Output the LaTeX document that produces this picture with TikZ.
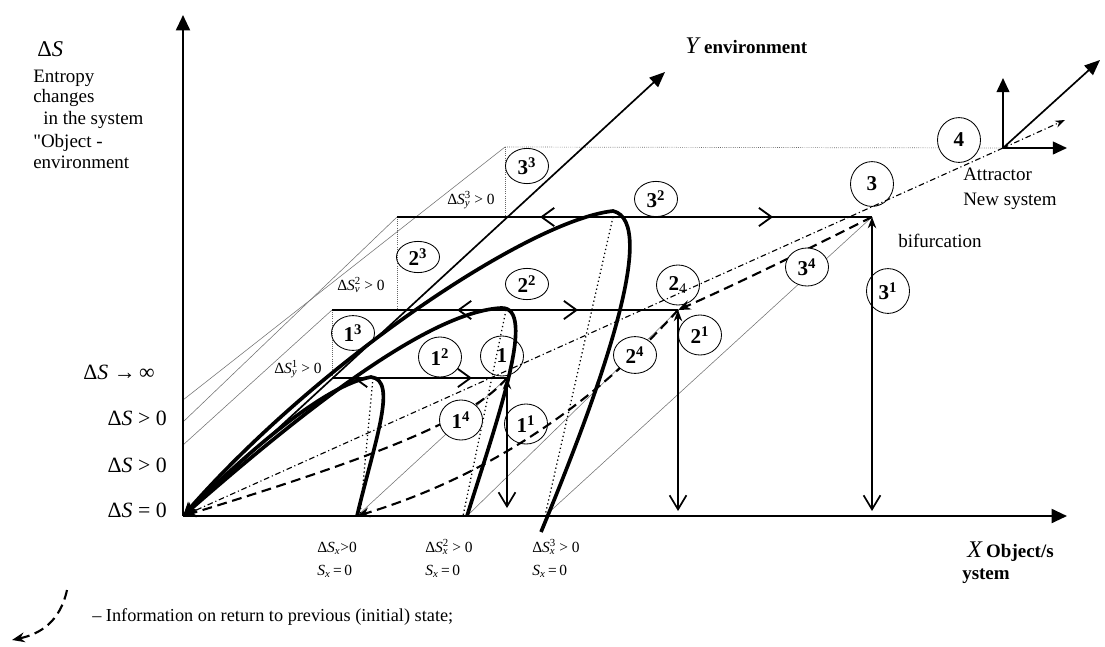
\documentclass[tikz,border=0pt]{standalone}
\usepackage{fontspec}
\setmainfont{Liberation Serif}
\usetikzlibrary{arrows.meta,shapes.geometric,decorations.markings}
\newcommand{\DSym}{\textup{Δ}\textit{S}}
\newcommand{\DSsub}[2]{\DSym\rlap{\textsuperscript{#2}}\textsubscript{\textit{#1}}}
\newcommand{\Sxz}{\textit{S}\textsubscript{\textit{x}}\,=\,0}
\begin{document}
\begin{tikzpicture}[x=0.025cm,y=-0.025cm,
 axisl/.style={line width=1.5pt,-{Triangle[length=11pt,width=10pt]}},
 yaxisl/.style={line width=1.2pt,-{Triangle[length=11pt,width=9pt]}},
 smallax/.style={line width=1.4pt,-{Triangle[length=10pt,width=9pt]}},
 thinl/.style={line width=0.4pt,black!55},
 dotl/.style={line width=0.9pt,dotted},
 boxdot/.style={line width=0.5pt,black!60,densely dotted},
 hline/.style={line width=1.3pt},
 traj/.style={line width=2.6pt,-{Stealth[length=10pt,width=8pt]}},
 ret/.style={line width=1.5pt,dash pattern=on 7pt off 4pt,-{Stealth[length=9pt,width=7pt]}},
 ddl/.style={line width=0.8pt,dash pattern=on 4pt off 2pt on 0.8pt off 2pt},
 varr/.style={line width=1.2pt,{Stealth[length=8pt,width=6pt]}-{Straight Barb[length=10pt,width=12pt]}},
 barbL/.style={postaction={decorate,decoration={markings,mark=at position #1 with {\arrowreversed{Straight Barb[length=9pt,width=13pt]}}}}},
 barbR/.style={postaction={decorate,decoration={markings,mark=at position #1 with {\arrow{Straight Barb[length=9pt,width=13pt]}}}}},
 st/.style={ellipse,draw,line width=0.6pt,minimum width=1.075cm,minimum height=#1,inner sep=0pt,font=\fontsize{15}{15}\selectfont\bfseries},
 st/.default=1.0cm,
 lbl/.style={inner sep=0pt,font=\fontsize{13.5}{15}\selectfont},
 big/.style={inner sep=0pt,font=\fontsize{15.5}{17}\selectfont},
 sml/.style={inner sep=0pt,font=\fontsize{11}{12}\selectfont}
]
\useasboundingbox (0,0) rectangle (1105,646);
% key points
\coordinate (O) at (183,516);
\coordinate (Vtop) at (183,15);
\coordinate (Xend) at (1067,516);
\coordinate (Yend) at (665,72);
\coordinate (P1) at (507,378);
\coordinate (P2) at (678,310);
\coordinate (P3) at (872,217);
\coordinate (A) at (1003,148);
\coordinate (X1) at (357,516);
\coordinate (X2) at (467,516);
\coordinate (X3) at (545,516);
\coordinate (X3b) at (541,532);
\coordinate (F1) at (507,508);
\coordinate (F2) at (678,511);
\coordinate (F3) at (872,511);
\coordinate (B1) at (332,378);
\coordinate (B1t) at (332,310);
\coordinate (B2) at (397,217);
\coordinate (B2b) at (397,310);
\coordinate (B3) at (505,147);
\coordinate (B3b) at (505,217);
\coordinate (L1) at (183,400);
\coordinate (L2) at (183,422);
\coordinate (L3) at (183,445);
\coordinate (T1) at (371,377);
\coordinate (T2) at (501,308);
\coordinate (T3) at (613,211);
\coordinate (D1t) at (373,378);
\coordinate (D1b) at (360,516);
\coordinate (D2t) at (506,310);
\coordinate (D2b) at (463,516);
\coordinate (D3t) at (613,217);
\coordinate (D3b) at (545,516);
\coordinate (Aup) at (1003,78);
\coordinate (Ar) at (1067,148);
\coordinate (Ad) at (1100,60);
\coordinate (Add) at (1065,120);
\coordinate (G1) at (67,590);
\coordinate (G2) at (12,640);
% thin guide lines
\draw[thinl] (L1) -- (B3);
\draw[thinl] (L2) -- (B2);
\draw[thinl] (L3) -- (B1t);
\draw[thinl] (X1) -- (P1);
\draw[thinl] (X2) -- (P2);
\draw[thinl] (X3) -- (P3);
% box dotted lines
\draw[boxdot] (B3) -- (A);
\draw[boxdot] (B3) -- (B3b);
\draw[boxdot] (B2) -- (B2b);
\draw[boxdot] (B1t) -- (B1);
% dotted projections
\draw[dotl] (D1t) -- (D1b);
\draw[dotl] (D2t) -- (D2b);
\draw[dotl] (D3t) -- (D3b);
% horizontal level lines
\draw[hline,barbL=0.525cm,barbR=3.5cm] (B1) -- (P1);
\draw[hline,barbL=3.125cm,barbR=6.15cm] (B1t) -- (P2);
\draw[hline,barbL=3.575cm,barbR=9.4cm] (B2) -- (P3);
% axes
\draw[axisl] (O) -- (Vtop);
\draw[axisl] (O) -- (Xend);
\draw[yaxisl] (O) -- (Yend);
% attractor axes
\draw[smallax] (A) -- (Aup);
\draw[smallax] (A) -- (Ar);
\draw[yaxisl] (A) -- (Ad);
\draw[ddl,-{Stealth[length=7pt,width=5pt]}] (A) -- (Add);
\draw[ddl,-{Stealth[length=9pt,width=7pt]}] (A) -- (O);
% trajectories
\draw[traj] (X1) .. controls (375,440) and (398,380) .. (T1) .. controls (325,385) and (250,450) .. (O);
\draw[traj] (X2) .. controls (497,420) and (538,306) .. (T2) .. controls (430,312) and (310,405) .. (O);
\draw[traj] (X3b) .. controls (600,390) and (660,222) .. (T3) .. controls (530,220) and (320,360) .. (O);
% return information
\draw[ret] (P1) .. controls (475,415) and (400,450) .. (O);
\draw[ret] (P2) .. controls (587,411) and (480,479) .. (X1);
\draw[ret] (P3) .. controls (830,238) and (750,278) .. (P2);
% vertical arrows
\draw[varr] (P1) -- (F1);
\draw[varr] (P2) -- (F2);
\draw[varr] (P3) -- (F3);
% state circles
\node[st] (c1) at (502,356) {1};
\node[st] (c11) at (526,424) {1\textsuperscript{1}};
\node[st] (c12) at (440,357) {1\textsuperscript{2}};
\node[st=0.87cm] (c13) at (353,333) {1\textsuperscript{3}};
\node[st,fill=white] (c14) at (461,420) {1\textsuperscript{4}};
\node[st] (c2) at (678,285) {2\textsubscript{\mdseries 4}};
\node[st] (c21) at (700,335) {2\textsuperscript{1}};
\node[st=0.78cm] (c22) at (527,284) {2\textsuperscript{2}};
\node[st=0.78cm] (c23) at (418,257) {2\textsuperscript{3}};
\node[st=0.92cm,fill=white] (c24) at (635,355) {2\textsuperscript{4}};
\node[st=1.12cm] (c3) at (872,184) {3};
\node[st=1.12cm] (c31) at (888,291) {3\textsuperscript{1}};
\node[st=0.88cm] (c32) at (656,199) {3\textsuperscript{2}};
\node[st=0.88cm] (c33) at (527,166) {3\textsuperscript{3}};
\node[st=0.95cm,fill=white] (c34) at (807,267) {3\textsuperscript{4}};
\node[st=1.12cm,fill=white] (c4) at (959,140) {4};
% left title
\node[inner sep=0pt,font=\fontsize{16}{17}\selectfont,anchor=base west] (t0) at (37,56) {\DSym};
\node[lbl,anchor=base west] (t1) at (33,82) {Entropy};
\node[lbl,anchor=base west] (t2) at (33,102) {changes};
\node[lbl,anchor=base west] (t3) at (43,124) {in the system};
\node[lbl,anchor=base west] (t4) at (33,147) {\textquotedbl Object -};
\node[lbl,anchor=base west] (t5) at (33,168) {environment};
% vertical axis values
\node[big,anchor=base east] (v1) at (155,379) {\DSym\ →\,∞};
\node[big,anchor=base east] (v2) at (167,425) {\DSym\ > 0};
\node[big,anchor=base east] (v3) at (167,472) {\DSym\ > 0};
\node[big,anchor=base east] (v4) at (167,517) {\DSym\ = 0};
% level labels
\node[sml,anchor=base west] (y1) at (274,373) {\DSsub{y}{1} > 0};
\node[sml,anchor=base west] (y2) at (337,290) {\DSsub{v}{2} > 0};
\node[sml,anchor=base west] (y3) at (447,204) {\DSsub{y}{3} > 0};
% x labels
\node[sml,anchor=base west] (x1) at (317,552) {\DSym\textsubscript{\textit{x}}>0};
\node[sml,anchor=base west] (x1b) at (317,575) {\Sxz};
\node[sml,anchor=base west] (x2) at (425,552) {\DSsub{x}{2} > 0};
\node[sml,anchor=base west] (x2b) at (425,575) {\Sxz};
\node[sml,anchor=base west] (x3) at (532,552) {\DSsub{x}{3} > 0};
\node[sml,anchor=base west] (x3b) at (532,575) {\Sxz};
% axis names
\node[inner sep=0pt,anchor=base west] (yl) at (685,53) {{\fontsize{17}{17}\selectfont\textit{Y}} {\fontsize{13.5}{14}\selectfont\bfseries environment}};
\node[inner sep=0pt,anchor=base west] (xl) at (967,557) {{\fontsize{17}{17}\selectfont\textit{X}} {\fontsize{13.5}{14}\selectfont\bfseries Object/s}};
\node[inner sep=0pt,anchor=base west,font=\fontsize{13.5}{14}\selectfont\bfseries] (xl2) at (962,579) {ystem};
% attractor labels
\node[lbl,anchor=base west] (at1) at (963,180) {Attractor};
\node[lbl,anchor=base west] (at2) at (963,205) {New system};
\node[lbl,anchor=base west] (bif) at (898,247) {bifurcation};
% legend
\draw[ret] (G1) .. controls (60,622) and (40,634) .. (G2);
\node[inner sep=0pt,anchor=base west,font=\fontsize{13}{14}\selectfont] (leg) at (92,621) {– Information on return to previous (initial) state;};
\end{tikzpicture}
\end{document}
